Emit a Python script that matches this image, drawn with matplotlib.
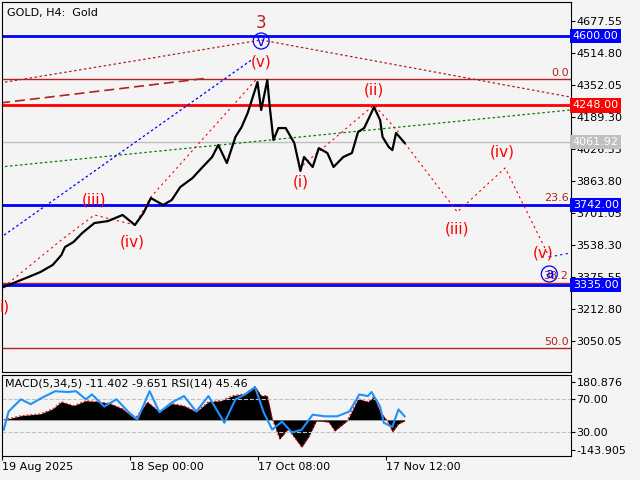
import matplotlib
matplotlib.use("Agg")
import matplotlib.pyplot as plt
from matplotlib.patches import Ellipse

BG = "#f4f4f4"
# price series (x in chart units, price)
px = [3,17,23,33,43,50,53,60,67,77,88,100,110,117,123,133,140,147,157,163,173,178,185,192,197,202,208,210,213,218,220,223,227,233,240,245,248,255,260,267,272,280,287,292,297,302,305,310,312,317,320,323,328,330]
pp = [3325,3360,3375,3401,3437,3487,3528,3554,3599,3650,3660,3691,3640,3701,3777,3742,3767,3833,3879,3920,3986,4047,3955,4088,4138,4210,4327,4367,4225,4377,4240,4072,4133,4133,4057,3915,3986,3935,4031,4006,3935,3986,4006,4113,4133,4199,4240,4174,4088,4037,4021,4108,4072,4057]
# MACD histogram
mx = [3,17,33,43,50,60,70,80,90,100,110,120,130,140,150,160,170,180,190,200,208,213,218,222,228,235,246,252,258,268,273,283,292,300,305,310,316,320,325,330]
mv = [0,20,29,53,87,68,92,87,78,53,5,87,39,78,68,39,87,92,116,126,160,116,116,5,-92,-44,-131,-78,-5,-10,-53,-5,102,87,112,39,-5,-58,-19,-5]
# RSI
rx = [3,7,17,25,35,45,55,62,70,75,85,95,105,112,122,130,140,150,160,170,183,192,200,208,215,222,230,238,246,255,265,275,285,293,300,303,310,313,320,325,330]
rv = [32.5,55,70,64,72.5,80,79,80,70,76,61,70,54,45,80,54,66,74,55,74,41,70,76,85,54,32.5,42.5,29,32.5,51,49,49,55,76,74,79,61,41,36,57.5,49]
levels = [4600.00, 4248.00, 3742.00, 3335.00]
level_colors = ["#0000ff", "#ff0000", "#0000ff", "#0000ff"]
fib_vals = [4381, 3742, 3347, 3014]
fib_labels = ["0.0", "23.6", "38.2", "50.0"]
last_price = 4061.92
yticks = [4677.55, 4514.80, 4352.05, 4189.30, 4026.55, 3863.80, 3701.05, 3538.30, 3375.55, 3212.80, 3050.05]
date_pos = [1.7, 106, 210.7, 315]
date_labels = ["19 Aug 2025", "18 Sep 00:00", "17 Oct 08:00", "17 Nov 12:00"]

def P(y):  # pixel row -> price
    return 4677.55 - (y - 21) * 5.086

W, H = 640, 480
fig = plt.figure(figsize=(6.4, 4.8), dpi=100, facecolor=BG)
ax = fig.add_axes([2/W, 1-372/H, 569/W, 370/H], facecolor=BG)
X0, X1 = 1.6, 465.7
ax.set_xlim(X0, X1); ax.set_ylim(P(372), P(2))

for v, c in zip(fib_vals, fib_labels):
    ax.axhline(v, color="#b22222", lw=1)
    ax.text(X1-2, v+8, c, color="#b22222", ha="right", va="bottom", fontsize=8)
ax.axhline(last_price, color="#c0c0c0", lw=1)
for v, c in zip(levels, level_colors):
    ax.axhline(v, color=c, lw=2)

ax.plot([0, 213, 465], [P(83), P(40), P(97)], color="#b22222", lw=0.9, ls=(0, (2, 2)))
ax.plot([0, 170], [P(103), P(78)], color="#b22222", lw=1.2, ls=(0, (6, 3)))
ax.plot([0, 205], [P(238), P(60)], color="#0000ff", lw=0.9, ls=(0, (2, 2)))
ax.plot([0, 465], [P(167), P(110)], color="#008000", lw=0.9, ls=(0, (2, 2)))
ax.plot([3, 52, 77, 110, 123, 210], [P(287), P(238), P(215), P(225), P(197), P(78)], color="#ff0000", lw=0.8, ls=(0, (2, 3)))
ax.plot([247, 305, 325], [P(165), P(105), P(132)], color="#ff0000", lw=0.8, ls=(0, (2, 3)))
ax.plot([330, 373, 412, 448], [P(143), P(212), P(168), P(257)], color="#ff0000", lw=0.8, ls=(0, (2, 3)))
ax.plot([448, 465], [P(257), P(253)], color="#0000ff", lw=0.8, ls=(0, (2, 3)))

ax.plot(px, pp, color="black", lw=1.6)

def lab(x, y, s, c="#ff0000", fs=11):
    ax.text(x, P(y), s, color=c, ha="center", va="center", fontsize=fs)
lab(213, 23, "3", "#b22222", 12)
lab(213, 62, "(v)"); lab(305, 90, "(ii)"); lab(245, 182, "(i)")
lab(77, 200, "(iii)"); lab(108, 242, "(iv)"); lab(373, 229, "(iii)")
lab(410, 152, "(iv)"); lab(443, 253, "(v)"); lab(4, 307, "i)")
lab(213, 42, "v", "#0000ff", 10); lab(448, 274, "a", "#0000ff", 10)
for cx, cy in [(213, 41), (448, 274)]:
    ax.add_patch(Ellipse((cx, P(cy)), 13, 16*5.086, fill=False, ec="#0000ff", lw=0.9))
ax.text(6, P(13), "GOLD, H4:  Gold", fontsize=8, va="center")

ax.set_xticks([]); ax.yaxis.tick_right()
ax.set_yticks(yticks); ax.set_yticklabels([f"{t:.2f}" for t in yticks], fontsize=8)
for lv, c in zip(levels + [last_price], level_colors + ["#c0c0c0"]):
    ax.text(1.003, lv, f"{lv:.2f}", transform=ax.get_yaxis_transform(), color="white", fontsize=8,
            va="center", ha="left", bbox=dict(boxstyle="square,pad=0.2", fc=c, ec="none"))

def M(m):  # MACD -> RSI units
    return 7.5 + (m + 143.905) * 0.2579
ax2 = fig.add_axes([2/W, 1-456/H, 569/W, 81/H], facecolor=BG)
ax2.set_xlim(X0, X1); ax2.set_ylim(30 - 24/0.8, 70 + 24/0.8)
ax2.fill_between(mx, M(0), [M(v) for v in mv], color="black", lw=0)
ax2.plot(mx, [M(v) for v in mv], color="#ff0000", lw=0.7, ls=(0, (2, 2)))
ax2.axhline(70, color="#c0c0c0", lw=0.8, ls="--"); ax2.axhline(30, color="#c0c0c0", lw=0.8, ls="--")
ax2.plot(rx, rv, color="#1e90ff", lw=1.5)
ax2.text(4, 96, "MACD(5,34,5) -11.402 -9.651 RSI(14) 45.46", fontsize=8, va="top")
ax2.yaxis.tick_right()
ax2.set_yticks([M(180.876), 70, 30, M(-143.905)])
ax2.set_yticklabels(["180.876", "70.00", "30.00", "-143.905"], fontsize=8)
ax2.set_xticks(date_pos); ax2.set_xticklabels(date_labels, fontsize=8, ha="left")
for a in (ax, ax2):
    a.tick_params(length=3, pad=1)
fig.savefig("out.png", dpi=100, facecolor=BG)
